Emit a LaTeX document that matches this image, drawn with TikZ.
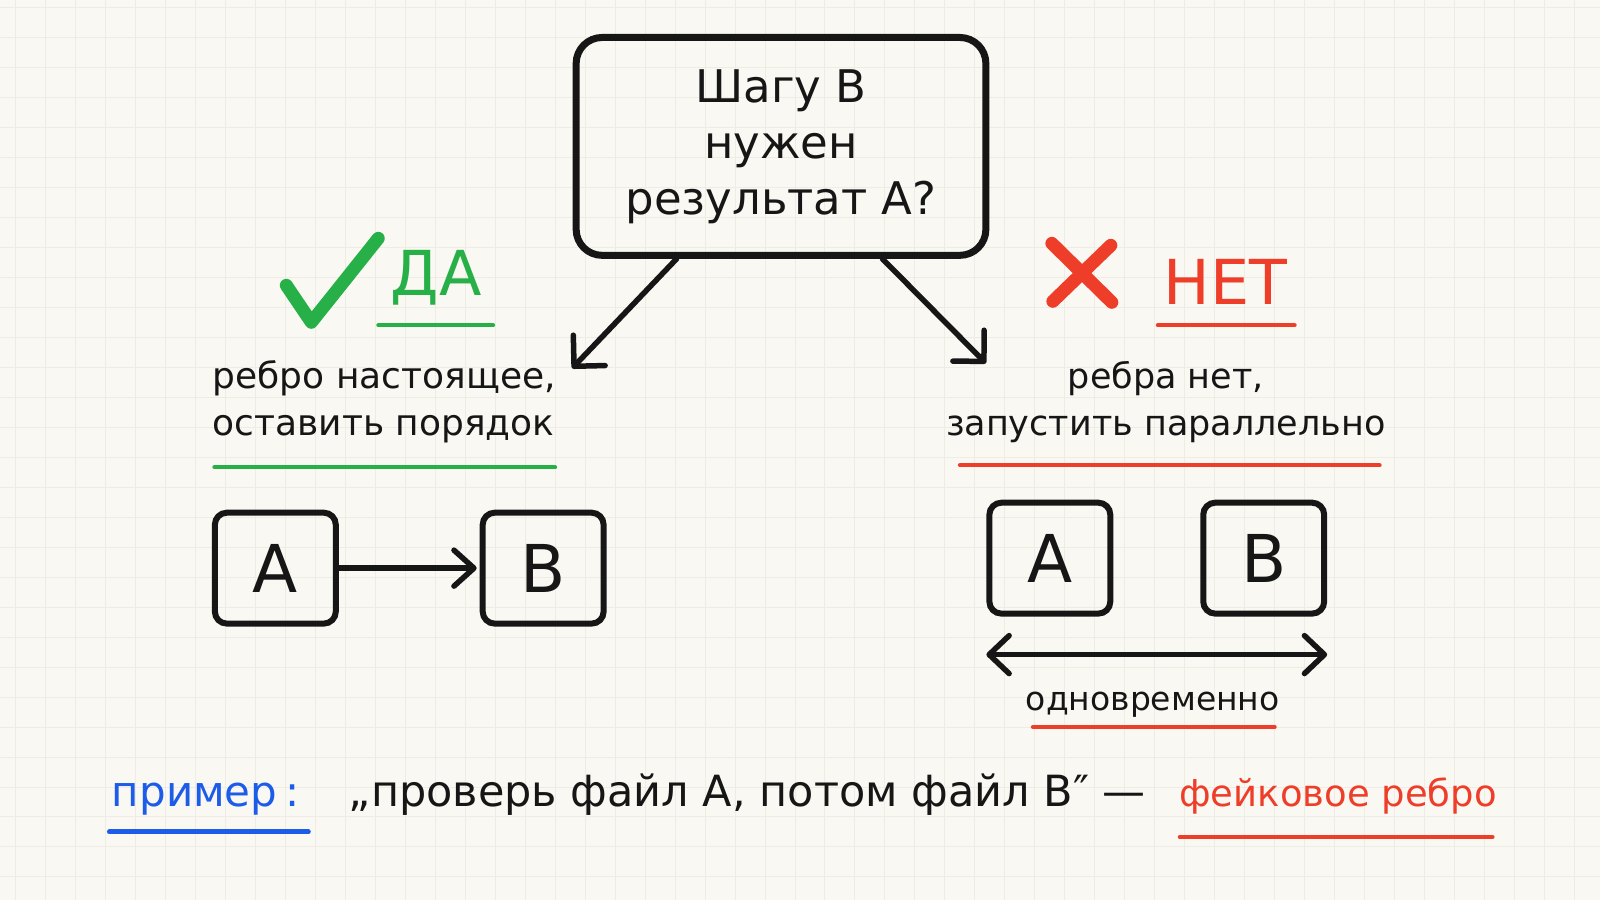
\documentclass[tikz,border=0pt]{standalone}
\usepackage{fontspec}
\setmainfont{DejaVu Sans}
\usetikzlibrary{arrows.meta,positioning}
\definecolor{paper}{RGB}{250,248,242}
\definecolor{gridc}{RGB}{238,236,228}
\definecolor{ink}{RGB}{22,22,22}
\definecolor{yesgreen}{RGB}{40,176,72}
\definecolor{nored}{RGB}{238,62,42}
\definecolor{exblue}{RGB}{28,92,232}
\newcommand{\handsize}[2]{\fontsize{#1}{#2}\selectfont}

\begin{document}
\begin{tikzpicture}[x=1pt,y=-1pt,
	every node/.style={text=ink},
	qbox/.style={draw=ink,line width=7pt,rounded corners=26pt,minimum width=410pt,minimum height=218pt,align=center,font=\handsize{45}{56}},
	letterbox/.style={draw=ink,line width=6pt,rounded corners=12pt,minimum width=121pt,minimum height=111pt,font=\handsize{66}{66}},
	arr/.style={draw=ink,line width=5.5pt,line cap=round,-{Straight Barb[length=22pt,width=44pt,round]}},
	dblarr/.style={draw=ink,line width=5.5pt,line cap=round,{Straight Barb[length=20pt,width=38pt,round]}-{Straight Barb[length=20pt,width=38pt,round]}},
	penstroke/.style={line width=13pt,line cap=round,line join=round},
	uline/.style={line width=4pt,line cap=round},
	bodytext/.style={font=\handsize{36}{47},align=center}]
	\fill[paper] (0,0) rectangle (1600,900);
	\foreach \x in {15,45,...,1600} \draw[gridc,line width=1pt] (\x,0) -- (\x,900);
	\foreach \y in {7,37,...,900} \draw[gridc,line width=1pt] (0,\y) -- (1600,\y);
	\useasboundingbox (0,0) rectangle (1600,900);

	\node[qbox] (q) at (781,146) {Шагу В\\нужен\\результат А?};

	\node[font=\handsize{62}{62},text=yesgreen] (da) at (436,277) {ДА};
	\node[font=\handsize{62}{62},text=nored] (net) at (1226,282) {НЕТ};
	\draw[penstroke,yesgreen] (286,285) -- (311,322) -- (378,238);
	\draw[penstroke,nored] (1052,243) -- (1112,302) (1053,301) -- (1111,245);
	\draw[uline,yesgreen] (378,325) -- (493,325);
	\draw[uline,nored] (1158,325) -- (1295,325);

	\node[bodytext,align=left] (yes) at (384,402) {ребро настоящее,\\оставить порядок};
	\node[bodytext,font=\handsize{35}{47}] (no) at (1166,402) {ребра нет,\\запустить параллельно};
	\draw[uline,yesgreen] (214,467) -- (555,467);
	\draw[uline,nored] (960,465) -- (1380,465);

	\coordinate (yestip) at (572,368);
	\coordinate (notip) at (986,363);
	\draw[arr] ([xshift=104pt]q.south west) -- (yestip);
	\draw[arr] ([xshift=-107pt]q.south east) -- (notip);

	\node[letterbox] (a1) at (275,568) {A};
	\node[letterbox,right=141pt of a1] (b1) {B};
	\draw[arr,shorten >=3pt,-{Straight Barb[length=20pt,width=36pt,round]}] (a1) -- (b1);

	\node[letterbox] (a2) at (1050,558) {A};
	\node[letterbox,right=87pt of a2] (b2) {B};
	\draw[dblarr] ([yshift=-38pt]a2.south west) -- ([yshift=-38pt]b2.south east);
	\node[font=\handsize{33}{33},anchor=base] (simul) at (1153,710) {одновременно};
	\draw[uline,nored] (1033,727) -- (1275,727);

	\node[font=\handsize{42}{42},text=exblue,anchor=base west] (ex) at (108,806) {пример\kern8pt:};
	\node[font=\handsize{43}{43},anchor=base west] (quote) at (345,806) {„проверь файл А, потом файл В″ —};
	\node[font=\handsize{37}{37},text=nored,anchor=base west] (fake) at (1176,806) {фейковое ребро};
	\draw[exblue,line width=5pt,line cap=round] (109,832) -- (308,832);
	\draw[uline,nored] (1180,837) -- (1493,837);
\end{tikzpicture}
\end{document}
